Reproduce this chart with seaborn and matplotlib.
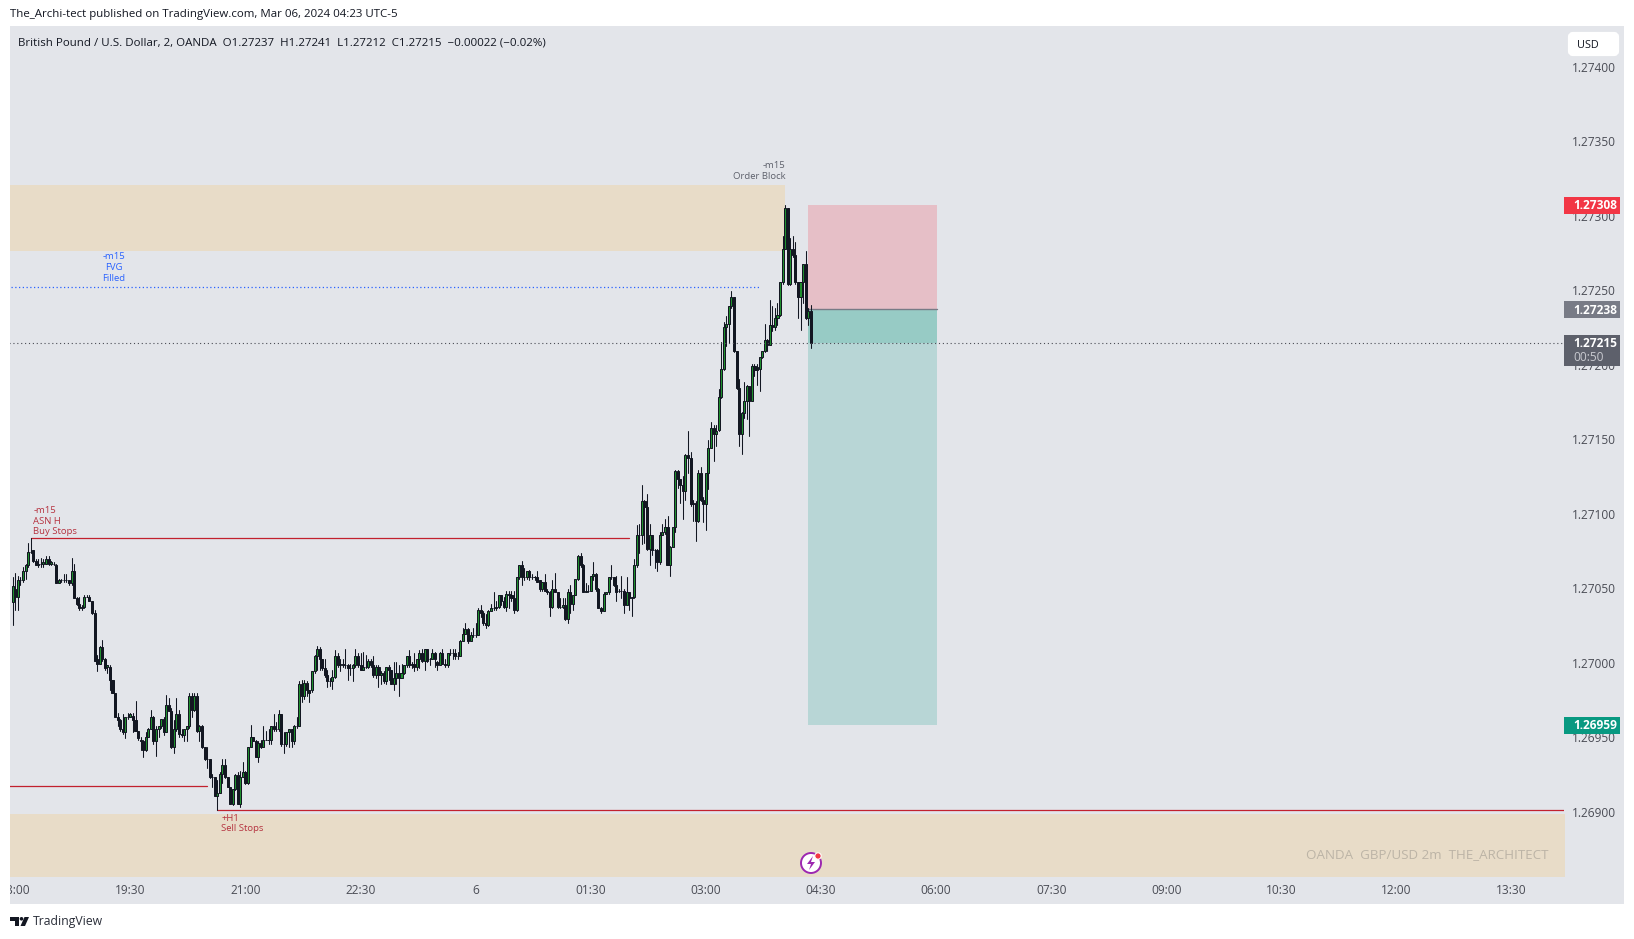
import matplotlib
matplotlib.use("Agg")
import matplotlib.pyplot as plt
from matplotlib.patches import Rectangle, Circle, Polygon, FancyBboxPatch
from matplotlib.transforms import ScaledTranslation
import numpy as np
import pandas as pd
import seaborn as sns

# candle values, in 0.00001 above 1.27000, one entry every 2 minutes
opens = [41,50,45,56,56,62,66,75,76,69, 66,67,67,67,70,67,67,66,54,56, 56,56,56,54,62,44,40,37,38,45,
         45,42,34,3,0,11,3,-2,-2,-11, -20,-36,-38,-44,-46,-36,-36,-35,-38,-45, -51,-52,-58,-49,-44,-36,-52,-44,-42,-37,
         -46,-28,-32,-56,-44,-34,-47,-48,-44,-42, -22,-31,-22,-45,-42,-56,-64,-64,-76,-76, -89,-87,-74,-68,-76,-83,-94,-84,-75,-94,
         -76,-73,-80,-56,-49,-52,-63,-53,-56,-51, -51,-51,-42,-44,-44,-34,-54,-54,-46,-44, -52,-42,-42,-14,-22,-13,-18,-18,-5,5,
         10,3,-3,-8,-12,-12,-9,5,-1,0, -1,-1,-3,-3,-1,5,-1,-4,-2,-2, 2,-1,-8,-2,-8,-6,-12,-2,-4,-14,
         -10,-6,-10,-6,-1,5,-1,0,-2,3, 7,2,10,3,3,7,1,-1,7,0, -1,7,7,7,5,5,15,20,23,15,
         19,19,19,36,34,27,26,35,37,37, 38,46,42,38,47,46,44,36,58,66, 58,58,62,58,58,58,56,50,55,49,
         48,38,50,48,38,38,39,30,48,40, 46,57,72,66,48,49,49,59,60,50, 37,35,47,48,58,58,53,49,49,49,
         39,48,44,45,66,86,86,109,105,77, 86,76,76,68,86,88,92,66,78,92, 129,124,120,116,140,138,108,108,96,128,
         110,107,128,145,158,154,157,179,198,226, 228,240,246,210,185,154,168,176,186,176, 200,199,198,206,210,217,214,227,226,232,
         234,256,278,306,255,278,274,256,246,256, 268,232,237]
highs = [58,61,59,58,65,67,81,84,76,70, 70,71,70,72,72,69,68,67,57,57, 60,60,56,71,67,45,45,39,46,46,
         46,42,36,6,12,16,4,-1,-1,-11, -20,-33,-37,-34,-36,-33,-33,-33,-25,-45, -49,-51,-46,-43,-31,-35,-42,-42,-37,-36,
         -21,-23,-30,-38,-23,-31,-44,-44,-42,-20, -20,-20,-20,-41,-41,-56,-56,-64,-74,-76, -78,-73,-64,-64,-76,-83,-84,-74,-73,-72,
         -66,-72,-56,-41,-49,-51,-52,-51,-42,-45, -44,-42,-34,-39,-31,-34,-46,-46,-44,-44, -41,-36,-12,-11,-11,-12,-18,-5,6,12,
         11,3,3,-4,-10,-4,9,7,3,3, 10,0,0,0,10,7,7,8,6,3, 3,5,-1,-1,-5,-5,-2,-1,-4,1,
         1,-1,0,-1,5,9,1,7,3,9, 10,10,10,4,10,8,2,8,10,3, 7,10,10,10,8,16,24,27,24,21,
         24,27,37,39,35,33,36,40,48,42, 46,46,45,49,49,49,49,58,66,69, 64,62,63,60,59,62,56,55,60,50,
         49,56,61,48,44,44,44,50,53,46, 57,73,74,67,54,53,59,68,61,51, 38,48,48,58,66,58,59,50,59,50,
         58,48,45,70,93,94,120,110,114,94, 86,77,77,88,94,97,99,79,92,130, 130,124,126,141,156,142,110,109,130,132,
         112,128,150,162,160,160,184,216,229,233, 240,250,246,210,191,169,189,187,186,201, 201,201,206,210,228,218,244,240,239,242,
         256,287,308,306,286,287,283,256,256,268, 277,239,241]
lows = [26,36,36,53,55,57,65,74,68,66, 65,65,65,67,66,66,66,54,54,55, 55,55,53,53,44,39,36,36,37,45,
        42,33,2,-5,0,2,-4,-6,-18,-20, -36,-42,-45,-47,-50,-37,-36,-46,-45,-51, -58,-63,-59,-49,-44,-54,-62,-49,-43,-48,
        -46,-32,-57,-60,-45,-49,-49,-52,-52,-43, -36,-32,-46,-52,-57,-65,-70,-77,-83,-89, -98,-87,-80,-77,-83,-94,-95,-85,-94,-96,
        -76,-81,-81,-56,-52,-63,-66,-57,-56,-51, -54,-54,-45,-45,-45,-55,-60,-55,-56,-56, -54,-43,-42,-26,-24,-22,-26,-19,-6,-4,
        -4,-4,-9,-16,-15,-17,-10,-2,-5,-2, -3,-11,-8,-12,-2,-2,-4,-4,-3,-3, -2,-9,-10,-16,-14,-13,-14,-11,-14,-18,
        -14,-22,-10,-7,-2,-2,-3,-5,-4,-3, 1,-4,1,-1,3,-2,-4,-1,0,-2, -2,6,3,3,3,5,15,20,14,15,
        18,18,19,31,26,24,25,35,36,36, 37,39,37,35,37,42,34,35,57,53, 56,57,56,57,56,55,49,49,49,47,
        32,37,48,37,37,37,29,27,34,36, 46,56,65,48,48,48,49,56,49,37, 34,35,47,47,57,52,42,48,44,34,
        39,36,32,44,65,74,80,81,76,66, 73,64,62,67,86,87,66,59,78,88, 118,108,97,110,128,106,96,82,95,109,
        95,90,117,145,136,146,156,178,197,213, 215,239,209,184,146,141,165,164,153,176, 193,187,183,205,209,210,214,223,224,227,
        233,255,278,254,254,273,255,232,224,242, 231,227,212]
closes = [52,45,56,56,62,66,75,75,69,66, 67,67,68,70,67,68,67,54,56,56, 56,56,54,62,44,40,37,38,45,45,
          42,34,2,0,11,3,-3,-1,-11,-20, -36,-38,-44,-46,-36,-36,-34,-38,-45,-50, -52,-58,-49,-44,-36,-52,-44,-42,-37,-46,
          -28,-32,-56,-44,-34,-47,-48,-44,-42,-22, -31,-22,-45,-42,-56,-64,-64,-76,-76,-89, -87,-74,-68,-76,-83,-94,-84,-75,-94,-76,
          -73,-80,-56,-49,-52,-63,-53,-56,-51,-51, -51,-42,-44,-44,-34,-54,-54,-46,-44,-52, -42,-42,-14,-22,-13,-18,-20,-5,5,10,
          3,-3,-8,-12,-12,-9,5,-1,0,-1, -1,-3,-3,-1,5,-1,-4,-2,-2,2, -1,-8,-2,-8,-6,-12,-2,-4,-14,-10,
          -6,-10,-6,-1,5,-1,0,-2,3,7, 2,10,2,3,7,3,-1,7,0,-1, 7,7,7,5,5,15,20,23,15,19,
          19,19,36,34,27,26,35,37,37,38, 46,42,38,47,46,44,36,58,66,58, 58,62,58,58,58,55,50,55,49,48,
          38,50,48,38,38,39,30,48,40,46, 57,72,66,48,49,49,59,60,50,37, 35,47,48,58,58,53,48,49,49,39,
          48,44,45,66,86,86,109,105,77,86, 76,76,68,86,88,92,66,78,92,129, 124,120,116,140,138,107,107,96,128,110,
          107,128,145,158,154,156,179,198,226,228, 240,246,210,185,154,168,176,186,176,200, 197,197,206,210,217,214,227,226,232,234,
          256,278,306,255,278,274,256,246,256,268, 232,237,215]

time_labels = ["18:00", "19:30", "21:00", "22:30", "6", "01:30", "03:00", "04:30",
               "06:00", "07:30", "09:00", "10:30", "12:00", "13:30"]
price_ticks = [1.269, 1.2695, 1.27, 1.2705, 1.271, 1.2715, 1.272, 1.2725, 1.273, 1.2735, 1.274]

# levels and zones
stop_price = 1.27308
entry_price = 1.27238
target_price = 1.26959
last_price = 1.27215
fvg_level = 1.27253
buy_stops = 1.27084
old_low = 1.26918
sell_stops = 1.26902
ob_top, ob_bottom = 1.27321, 1.27277
demand_top = 1.26899

# colours
PANEL = "#e3e5ea"
ZONE = "#e8dcc8"
DARK = "#131722"
GREEN = "#1f8f2e"
RED_LINE = "#c2212e"
RED_TXT = "#b5323f"
BLUE = "#2962ff"
TXT = "#4a4c55"

sns.set_theme(style="white")
plt.rcParams["font.family"] = ["Open Sans", "Noto Sans", "DejaVu Sans"]

W, H = 1634, 939
fig = plt.figure(figsize=(W / 100, H / 100), dpi=100, facecolor="white")
fig.add_artist(Rectangle((10 / W, 1 - 904 / H), 1614 / W, 878 / H, transform=fig.transFigure,
                         facecolor=PANEL, edgecolor="none", zorder=-1))

# chart area, 10..1564 px across and 26..876 px down
ax = fig.add_axes([10 / W, 1 - 876 / H, 1554 / W, 850 / H], facecolor=PANEL, zorder=1)
ax.set_xlim(-4.14, 1211)
ax.set_ylim(1.268574, 1.27428)
for s in ax.spines.values():
    s.set_visible(False)

# zones
ax.fill_between([-5, 602], ob_bottom, ob_top, color=ZONE, lw=0, zorder=1)
ax.fill_between([-5, 1215], 1.2680, demand_top, color=ZONE, lw=0, zorder=1)

# long position box
ax.fill_between([620, 721], entry_price, stop_price, color="#e6bfc7", lw=0, zorder=1)
ax.fill_between([620, 721], target_price, last_price, color="#b8d6d6", lw=0, zorder=1)
ax.fill_between([620, 721], last_price, entry_price, color="#97cbc5", lw=0, zorder=1)
ax.plot([620, 721], [entry_price, entry_price], color="#787b86", lw=1, zorder=2)

# level lines
ax.plot([12, 480], [buy_stops, buy_stops], color=RED_LINE, lw=0.9, zorder=2)
ax.plot([-5, 150], [old_low, old_low], color=RED_LINE, lw=0.9, zorder=2)
ax.plot([158, 1215], [sell_stops, sell_stops], color=RED_LINE, lw=0.9, zorder=2)
ax.plot([-3, 583], [fvg_level, fvg_level], color=BLUE, lw=0.9, ls=(0, (1, 2)), zorder=2)
ax.plot([-5, 1215], [last_price, last_price], color="#4a4c55", lw=0.8, ls=(0, (1, 2.5)), zorder=4)

# candles
o = 1.27 + np.array(opens) / 1e5
h = 1.27 + np.array(highs) / 1e5
l = 1.27 + np.array(lows) / 1e5
c = 1.27 + np.array(closes) / 1e5
t = -2 + 2 * np.arange(len(o))

wicks = pd.DataFrame({"minute": np.r_[t, t], "price": np.r_[h, l], "bar": np.r_[t, t]})
sns.lineplot(data=wicks, x="minute", y="price", units="bar", estimator=None, sort=False,
             color=DARK, linewidth=0.75, ax=ax, zorder=3, legend=False)

up = c >= o
ax.bar(t, c - o, bottom=o, width=1.6, color=np.where(up, GREEN, DARK),
       edgecolor=DARK, linewidth=0.72, zorder=3)

# axes ticks
ax.set_xlabel("")
ax.set_ylabel("")
ax.set_xticks(90 * np.arange(len(time_labels)))
ax.set_xticklabels(time_labels)
ax.set_yticks(price_ticks)
ax.set_yticklabels([f"{p:.5f}" for p in price_ticks])
ax.yaxis.tick_right()
ax.tick_params(axis="x", length=0, pad=6, labelsize=8.6, labelcolor=TXT)
ax.tick_params(axis="y", length=0, pad=6, labelsize=8.6, labelcolor=TXT)
up_1px = ScaledTranslation(0, 1 / 100, fig.dpi_scale_trans)
for lab in ax.get_yticklabels():
    lab.set_transform(lab.get_transform() + up_1px)

# price tags on the right hand axis
ytr = ax.get_yaxis_transform()
tag_w = 56 / 1554
pad_x = 1 + 9 / 1554
px = 1 / 148960


def price_tag(price, colour):
    ax.add_patch(Rectangle((1, price - 9 * px), tag_w, 17 * px, transform=ytr, facecolor=colour,
                           edgecolor="none", clip_on=False, zorder=10))
    ax.text(pad_x, price - 1 * px, f"{price:.5f}", transform=ytr, color="white", fontsize=8.6, fontweight="bold",
            ha="left", va="center", clip_on=False, zorder=11)


price_tag(stop_price, "#f23645")
price_tag(entry_price, "#787b86")
price_tag(target_price, "#089981")
ax.add_patch(Rectangle((1, last_price - 23 * px), tag_w, 31 * px, transform=ytr, facecolor="#5d606b",
                       edgecolor="none", clip_on=False, zorder=10))
ax.text(pad_x, last_price, f"{last_price:.5f}", transform=ytr, color="white", fontsize=8.6, fontweight="bold",
        ha="left", va="center", clip_on=False, zorder=11)
ax.text(pad_x, last_price - 14.5 * px, "00:50", transform=ytr, color="#c9cad0", fontsize=8.6,
        ha="left", va="center", clip_on=False, zorder=11)

# chart annotations
ax.text(602, 1.27322 + 3 * px, "-m15\nOrder Block", color="#5d606b", fontsize=6.8, ha="right", va="bottom",
        linespacing=1.25, zorder=5)
ax.text(77, fvg_level + 4 * px, "-m15\nFVG\nFilled", color=BLUE, fontsize=6.8, ha="center", va="bottom",
        linespacing=1.25, zorder=5)
ax.text(14, buy_stops + 2 * px, "-m15\nASN H\nBuy Stops", color=RED_TXT, fontsize=6.8, ha="left", va="bottom",
        linespacing=1.25, zorder=5)
ax.text(161, sell_stops - 4 * px, "+H1\nSell Stops", color=RED_TXT, fontsize=6.8, ha="left", va="top",
        linespacing=1.25, zorder=5)
ax.text(0.990, 0.025, "OANDA  GBP/USD 2m  THE_ARCHITECT", transform=ax.transAxes, color="#bcb4a6",
        fontsize=9.6, ha="right", va="center", zorder=5)

# page furniture in pixel coordinates
ov = fig.add_axes([0, 0, 1, 1], zorder=3)
ov.set_xlim(0, W)
ov.set_ylim(H, 0)
ov.axis("off")
ov.patch.set_alpha(0)
ov.add_patch(Rectangle((0, 876), 10, 28, facecolor="white", edgecolor="none"))

ov.text(10, 14.5, "The_Archi-tect published on TradingView.com, Mar 06, 2024 04:23 UTC-5", color="#131722",
        fontsize=8.25, ha="left", va="center")
ov.text(18, 43, "British Pound / U.S. Dollar, 2, OANDA  O1.27237  H1.27241  L1.27212  C1.27215  \u22120.00022 (\u22120.02%)",
        color="#131722", fontsize=8.25, ha="left", va="center")

ov.add_patch(FancyBboxPatch((1570, 34), 47, 20, boxstyle="round,pad=0,rounding_size=3", mutation_aspect=1,
                            facecolor="white", edgecolor="white", lw=3))
ov.text(1577, 45.5, "USD", color="#131722", fontsize=7.8, ha="left", va="center")

# alert icon
ov.add_patch(Circle((811, 863), 10, facecolor="white", edgecolor="#9c27b0", lw=1.4))
ov.add_patch(Polygon([(813, 856), (807, 864), (811, 864), (809, 870), (815, 862), (811, 862)],
                     facecolor="#9c27b0", edgecolor="none"))
ov.add_patch(Circle((818, 856), 3.2, facecolor="#f23645", edgecolor="white", lw=0.8))

# TradingView logo
ov.add_patch(Polygon([(10, 917), (19, 917), (19, 926), (15, 926), (15, 920.5), (10, 920.5)], facecolor=DARK, edgecolor="none"))
ov.add_patch(Circle((21.5, 918.8), 1.8, facecolor=DARK, edgecolor="none"))
ov.add_patch(Polygon([(24.5, 917), (29, 917), (25, 926), (20.5, 926)], facecolor=DARK, edgecolor="none"))
ov.text(33, 922, "TradingView", color="#2a2e39", fontsize=8.8, ha="left", va="center")

fig.savefig("out.png", dpi=100)
